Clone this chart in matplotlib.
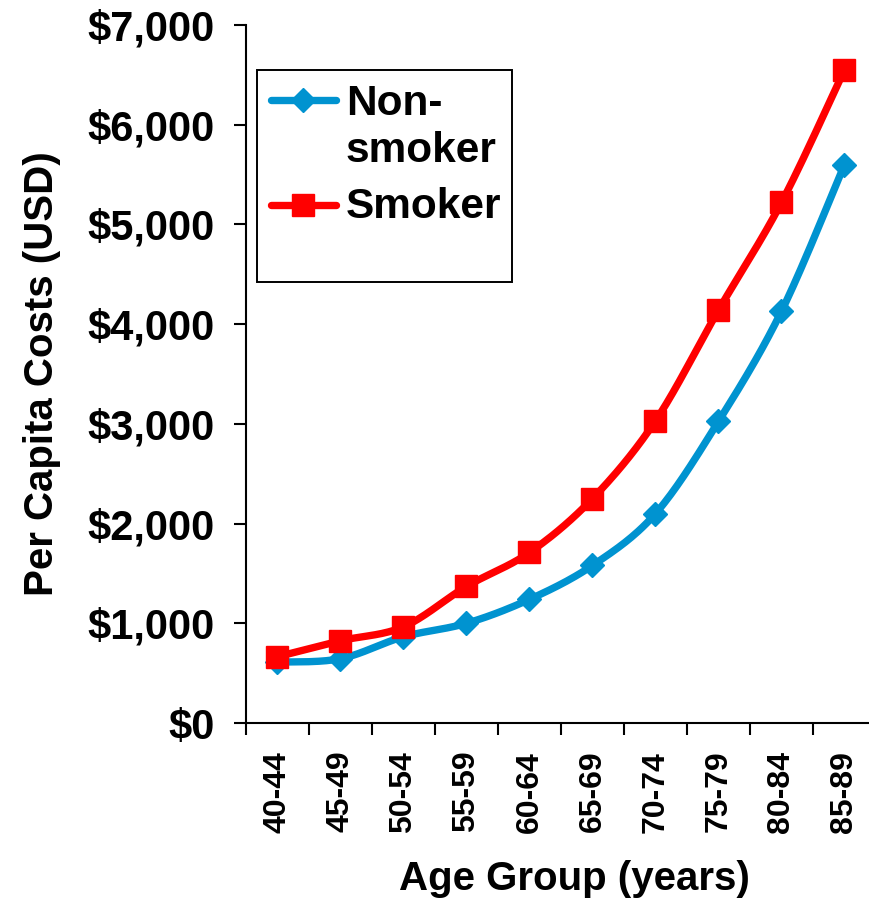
import matplotlib; matplotlib.use("Agg")
import matplotlib.pyplot as plt
import numpy as np
from matplotlib.lines import Line2D
from matplotlib.patches import Rectangle

plt.rcParams["font.family"] = ["Liberation Sans", "DejaVu Sans"]
plt.rcParams["font.weight"] = "bold"

AGE_GROUPS = ["40-44", "45-49", "50-54", "55-59", "60-64", "65-69", "70-74", "75-79", "80-84", "85-89"]
NON_SMOKER = [610, 645, 865, 1000, 1240, 1580, 2100, 3025, 4130, 5600]
SMOKER = [665, 825, 965, 1370, 1710, 2250, 3030, 4140, 5220, 6550]
Y_TICKS = [0, 1000, 2000, 3000, 4000, 5000, 6000, 7000]
Y_LABELS = ["$0", "$1,000", "$2,000", "$3,000", "$4,000", "$5,000", "$6,000", "$7,000"]
BLUE, RED = "#0093d0", "#ff0000"
W, H = 870, 898


def smooth(xs, ys, n=30):
    # excel-style smoothed line: cubic bezier, control points from neighbours / 6
    p = np.column_stack([xs, ys]).astype(float)
    p = np.vstack([p[0], p, p[-1]])
    out = []
    t = np.linspace(0, 1, n)[:, None]
    for i in range(1, len(p) - 2):
        p0, p3 = p[i], p[i + 1]
        c1 = p0 + (p[i + 1] - p[i - 1]) / 6
        c2 = p3 - (p[i + 2] - p[i]) / 6
        seg = (1 - t) ** 3 * p0 + 3 * (1 - t) ** 2 * t * c1 + 3 * (1 - t) * t ** 2 * c2 + t ** 3 * p3
        out.append(seg if i == 1 else seg[1:])
    s = np.vstack(out)
    return s[:, 0], s[:, 1]


def fx(x): return x / W
def fy(y): return 1 - y / H


fig = plt.figure(figsize=(W / 100, H / 100), dpi=100)
ax = fig.add_axes([fx(246), fy(723), 630 / W, (723 - 25) / H])
x = np.arange(len(AGE_GROUPS))

for vals, col, mk, ms in [(NON_SMOKER, BLUE, "D", 12.5), (SMOKER, RED, "s", 16)]:
    sx, sy = smooth(x, vals)
    ax.plot(sx, sy, color=col, lw=5.3, solid_capstyle="round", zorder=3)
    ax.plot(x, vals, ls="none", marker=mk, ms=ms, color=col, mec=col, zorder=4)

ax.set_xlim(-0.5, len(AGE_GROUPS) - 0.5)
ax.set_ylim(0, 7000)
ax.set_yticks(Y_TICKS)
ax.set_yticklabels(Y_LABELS, fontsize=30, fontweight="bold")
ax.set_xticks(np.arange(len(AGE_GROUPS) + 1) - 0.5)
ax.set_xticklabels([])
ax.set_xticks(x, minor=True)
ax.set_xticklabels(AGE_GROUPS, minor=True, rotation=90, fontsize=23, fontweight="bold")
ax.tick_params(axis="both", which="major", direction="out", length=8.6, width=1.5, color="black")
ax.tick_params(axis="y", pad=14)
ax.tick_params(axis="x", which="minor", length=0, pad=20)
for s in ["top", "right"]:
    ax.spines[s].set_visible(False)
for s in ["left", "bottom"]:
    ax.spines[s].set_linewidth(1.5)

fig.text(fx(42), fy(374), "Per Capita Costs (USD)", rotation=90, ha="center", va="center",
         fontsize=29, fontweight="bold")
fig.text(fx(574), fy(890), "Age Group (years)", ha="center", va="baseline", fontsize=29, fontweight="bold")

# legend drawn by hand so the box and wrapped label match
fig.patches.append(Rectangle((fx(257), fy(282)), (512 - 257) / W, (282 - 70) / H, transform=fig.transFigure,
                             fill=False, ec="black", lw=1.4))
for yy, col, mk, ms in [(100, BLUE, "D", 12.5), (205, RED, "s", 16)]:
    fig.lines.append(Line2D([fx(271), fx(336)], [fy(yy), fy(yy)], transform=fig.transFigure, color=col, lw=5.3,
                            solid_capstyle="round"))
    fig.lines.append(Line2D([fx(303)], [fy(yy)], transform=fig.transFigure, ls="none", marker=mk, ms=ms,
                            color=col, mec=col))
fig.text(fx(346), fy(115), "Non-", va="baseline", fontsize=30.5, fontweight="bold")
fig.text(fx(346), fy(162), "smoker", va="baseline", fontsize=30.5, fontweight="bold")
fig.text(fx(346), fy(218), "Smoker", va="baseline", fontsize=30.5, fontweight="bold")

fig.savefig("out.png", dpi=100)
